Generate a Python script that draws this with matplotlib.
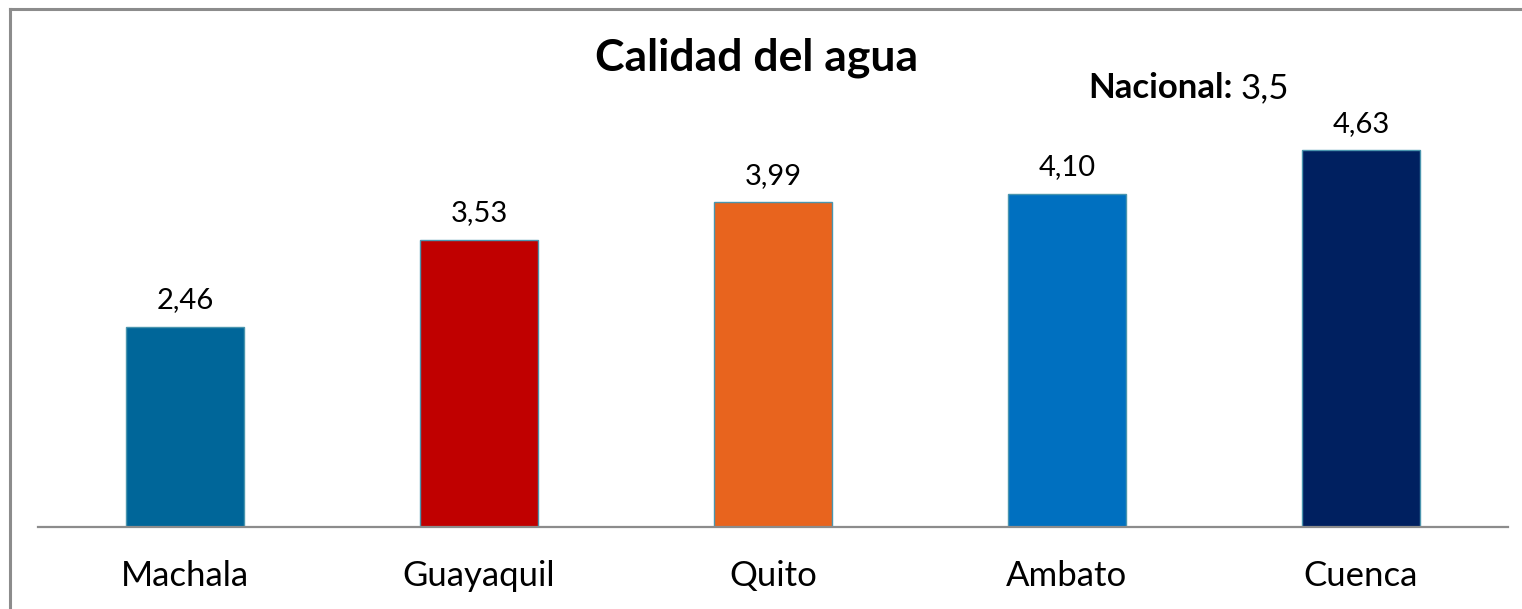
import matplotlib
matplotlib.use('Agg')
import matplotlib.pyplot as plt
from matplotlib.lines import Line2D

ciudades = ['Machala', 'Guayaquil', 'Quito', 'Ambato', 'Cuenca']
valores = [2.46, 3.53, 3.99, 4.10, 4.63]
etiquetas = ['2,46', '3,53', '3,99', '4,10', '4,63']
colores = ['#006699', '#C00000', '#E8641E', '#0070C0', '#002060']
nacional = '3,5'

plt.rcParams['font.family'] = ['Lato', 'DejaVu Sans']

W, H = 1522, 609
fig = plt.figure(figsize=(W / 100, H / 100), dpi=100)
ax = fig.add_axes([38 / W, 82 / H, 1470 / W, 488 / H])

x = range(len(ciudades))
ax.bar(x, valores, width=0.40, color=colores, edgecolor='#4A95AE', linewidth=1.0, zorder=2)

for i, v in enumerate(valores):
    ax.annotate(etiquetas[i], (i, v), xytext=(0, 13.5), textcoords='offset points',
                ha='center', va='baseline', fontsize=21, color='black')

ax.set_xlim(-0.5, 4.5)
ax.set_ylim(0, 6)
ax.set_yticks([])
ax.set_xticks(list(x))
ax.set_xticklabels(ciudades, fontsize=25)
ax.tick_params(axis='x', length=0, pad=24)
for s in ['left', 'right', 'top']:
    ax.spines[s].set_visible(False)
ax.spines['bottom'].set_color('#8C8C8C')
ax.spines['bottom'].set_linewidth(1.6)

fig.text(757 / W, 1 - 70 / H, 'Calidad del agua', ha='center', va='baseline',
         fontsize=32, fontweight='bold')

t1 = fig.text(1088 / W, 1 - 98 / H, 'Nacional:', ha='left', va='baseline',
              fontsize=25, fontweight='bold')
ax.annotate(nacional, xy=(1, 0), xycoords=t1, xytext=(6, 0), textcoords='offset points',
            ha='left', va='bottom', fontsize=25)

# marco gris (solo se ven los bordes superior e izquierdo)
fig.add_artist(Line2D([9.5 / W, 9.5 / W], [0, 1 - 8.5 / H], color='#8C8C8C', lw=2.2))
fig.add_artist(Line2D([9.5 / W, 1], [1 - 8.5 / H, 1 - 8.5 / H], color='#8C8C8C', lw=2.2))

fig.savefig('out.png', dpi=100, facecolor='white')
